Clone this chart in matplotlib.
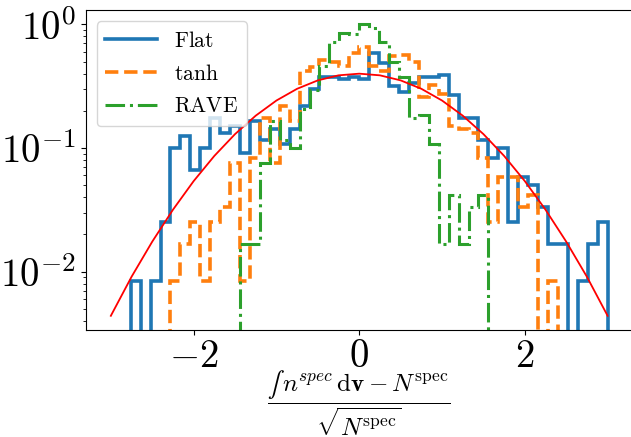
"""
Histograms of the normalised spectral-integral residual for three weightings.
"""

import matplotlib

matplotlib.use("Agg")
import matplotlib.pyplot as plt
import numpy as np
from matplotlib.ticker import FixedLocator, FuncFormatter

plt.rcParams["mathtext.fontset"] = "cm"
plt.rcParams["font.family"] = "serif"

# 50 equal bins on [-3, 3]; heights are counts out of ~1000 samples per series
BIN_EDGES = np.linspace(-3.0, 3.0, 51)
N_SAMPLES = 1000

flat_counts = [
    0, 0, 1, 0, 1, 3, 12, 15, 8, 12,
    21, 16, 18, 11, 20, 14, 17, 13, 17, 26,
    36, 45, 45, 43, 45, 43, 70, 58, 38, 34,
    40, 45, 45, 47, 32, 21, 21, 14, 10, 12,
    3, 7, 6, 4, 2, 2, 0, 1, 2, 3,
]
tanh_counts = [
    0, 0, 0, 0, 0, 0, 1, 2, 3, 1,
    3, 4, 9, 1, 10, 21, 9, 26, 20, 50,
    54, 62, 60, 55, 70, 79, 55, 50, 66, 68,
    60, 31, 39, 33, 18, 17, 16, 10, 3, 7,
    7, 4, 5, 0, 1, 0, 0, 0, 0, 0,
]
rave_counts = [
    0, 0, 0, 0, 0, 0, 0, 0, 0, 0,
    0, 0, 0, 2, 2, 9, 20, 14, 12, 25,
    35, 55, 87, 103, 100, 120, 112, 87, 60, 45,
    21, 22, 13, 2, 5, 2, 4, 5, 0, 0,
    0, 0, 0, 0, 0, 0, 0, 0, 0, 0,
]

# reference normal curve
ref_x = [
    -3.0, -2.75, -2.5, -2.25, -2.0, -1.75, -1.5, -1.25, -1.0, -0.75, -0.5, -0.25, 0.0,
    0.25, 0.5, 0.75, 1.0, 1.25, 1.5, 1.75, 2.0, 2.25, 2.5, 2.75, 3.0,
]
ref_y = [
    0.0044, 0.0091, 0.0175, 0.0317, 0.054, 0.0863, 0.1295, 0.1826, 0.242, 0.3011, 0.3521, 0.3867, 0.3989,
    0.3867, 0.3521, 0.3011, 0.242, 0.1826, 0.1295, 0.0863, 0.054, 0.0317, 0.0175, 0.0091, 0.0044,
]

SERIES = [
    ("Flat", flat_counts, "#1f77b4", "-", 2.6),
    ("tanh", tanh_counts, "#ff7f0e", "--", 2.6),
    ("RAVE", rave_counts, "#2ca02c", "-.", 2.2),
]


def _density(counts):
    counts = np.asarray(counts, dtype=float)
    return counts / (N_SAMPLES * np.diff(BIN_EDGES))


def main():
    fig = plt.figure(figsize=(6.31, 4.37), dpi=100)
    ax = fig.add_axes([0.1363, 0.2449, 0.866, 0.7311])

    for label, counts, color, ls, lw in SERIES:
        ax.stairs(_density(counts), BIN_EDGES, color=color, linestyle=ls, lw=lw,
                  label=rf"$\rm {label}$")
    ax.plot(ref_x, ref_y, color="red", lw=1.3)

    ax.set_yscale("log")
    ax.set_xlim(-3.3, 3.3)
    ax.set_ylim(0.00338, 1.293)

    ax.xaxis.set_major_locator(FixedLocator([-2, 0, 2]))
    ax.xaxis.set_major_formatter(FuncFormatter(lambda v, _: rf"${v:.0f}$"))
    ax.yaxis.set_major_formatter(
        FuncFormatter(lambda v, _: rf"$10^{{{int(round(np.log10(v)))}}}$")
    )
    ax.tick_params(axis="both", which="major", labelsize=28)
    ax.tick_params(axis="x", which="major", pad=2.5)

    ax.set_xlabel(
        "$\\dfrac{\u222b\\, n^{spec}\\,\\mathrm{d}\\mathbf{v} - N^{\\rm spec}}"
        "{\\sqrt{N^{\\rm spec}}}$",
        fontsize=18,
    )
    ax.xaxis.set_label_coords(0.5, -0.12)
    ax.legend(loc="upper left", fontsize=15.5, handlelength=2.4, handletextpad=0.8)

    fig.savefig("out.png", dpi=100)
    plt.close(fig)


if __name__ == "__main__":
    main()
